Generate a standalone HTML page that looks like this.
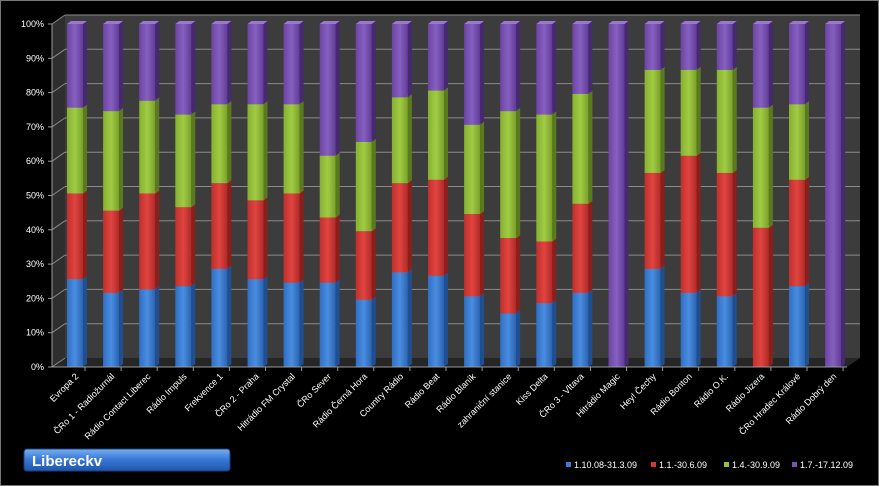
<!DOCTYPE html>
<html><head><meta charset="utf-8"><style>
html,body{margin:0;padding:0;background:#000;}
svg{display:block;font-family:"Liberation Sans",sans-serif;}
</style></head><body>
<svg width="879" height="486" viewBox="0 0 879 486" xmlns="http://www.w3.org/2000/svg">
<defs>
<linearGradient id="bl" x1="0" x2="1"><stop offset="0" stop-color="#2f6fc4"/><stop offset=".5" stop-color="#4a8de0"/><stop offset="1" stop-color="#2a63b0"/></linearGradient>
<linearGradient id="rd" x1="0" x2="1"><stop offset="0" stop-color="#c0302c"/><stop offset=".5" stop-color="#e04440"/><stop offset="1" stop-color="#b02a28"/></linearGradient>
<linearGradient id="gr" x1="0" x2="1"><stop offset="0" stop-color="#86b030"/><stop offset=".5" stop-color="#a0cc44"/><stop offset="1" stop-color="#7aa02a"/></linearGradient>
<linearGradient id="pu" x1="0" x2="1"><stop offset="0" stop-color="#6c44a4"/><stop offset=".5" stop-color="#8660c0"/><stop offset="1" stop-color="#603c98"/></linearGradient>
<linearGradient id="btn" x1="0" y1="0" x2="0" y2="1"><stop offset="0" stop-color="#7ab0f0"/><stop offset=".45" stop-color="#3a7ad8"/><stop offset="1" stop-color="#1f55a8"/></linearGradient>
</defs>
<rect x="0.5" y="0.5" width="878" height="485" fill="#000" stroke="#777"/>
<polygon points="65,15 860,15 860,358 65,358" fill="#3c3c3c"/>
<polygon points="52,24 65,15 65,358 52,367" fill="#2e2e2e"/>
<polygon points="52,367 65,358 860,358 847,367" fill="#262626"/>
<g id="grid" stroke="#8a8a8a" stroke-width="1"></g>
<g id="bars"></g>
<g id="labels" fill="#fff" font-size="9"></g>
<line x1="52" y1="367" x2="847" y2="367" stroke="#999"/>
<line x1="52" y1="24" x2="52" y2="367" stroke="#999"/>
<rect x="24" y="449" width="206" height="22" rx="3" fill="url(#btn)" stroke="#1a3f80"/>
<text x="32" y="466" fill="#fff" font-size="15" font-weight="bold">Libereckv</text>
<g font-size="9" fill="#fff">
<rect x="566" y="462" width="5" height="5" fill="#3a7ad8"/><text x="574" y="468">1.10.08-31.3.09</text>
<rect x="651" y="462" width="5" height="5" fill="#d03a36"/><text x="659" y="468">1.1.-30.6.09</text>
<rect x="724" y="462" width="5" height="5" fill="#94c03c"/><text x="732" y="468">1.4.-30.9.09</text>
<rect x="792" y="462" width="5" height="5" fill="#7a54b4"/><text x="800" y="468">1.7.-17.12.09</text>
</g>
<script>
var ns="http://www.w3.org/2000/svg";
function el(t,a,p){var e=document.createElementNS(ns,t);for(var k in a)e.setAttribute(k,a[k]);p.appendChild(e);return e;}
var g=document.getElementById('grid'),lb=document.getElementById('labels'),bs=document.getElementById('bars');
for(var i=0;i<=10;i++){var v=i*10,yb=358-v*3.43,yf=367-v*3.43;
 if(i>0)el('line',{x1:65,y1:yb,x2:860,y2:yb},g);
 el('line',{x1:52,y1:yf,x2:65,y2:yb},g);
 el('line',{x1:48,y1:yf,x2:52,y2:yf,stroke:'#999'},g);
 var t=el('text',{x:44,y:yf+3,'text-anchor':'end'},lb);t.textContent=v+'%';}
var names=["Evropa 2","ČRo 1 - Radiožurnál","Rádio Contact Liberec","Rádio Impuls","Frekvence 1","ČRo 2 - Praha","Hitrádio FM Crystal","ČRo Sever","Rádio Černá Hora","Country Rádio","Rádio Beat","Rádio Blaník","zahraniční stanice","Kiss Delta","ČRo 3 - Vltava","Hitrádio Magic","Hey! Čechy","Rádio Bonton","Rádio O.K.","Rádio Jizera","ČRo Hradec Králové","Rádio Dobrý den"];
var d=[[25,50,75],[21,45,74],[22,50,77],[23,46,73],[28,53,76],[25,48,76],[24,50,76],[24,43,61],[19,39,65],[27,53,78],[26,54,80],[20,44,70],[15,37,74],[18,36,73],[21,47,79],[0,0,0],[28,56,86],[21,61,86],[20,56,86],[0,40,75],[23,54,76],[0,0,0]];
var fills=['url(#bl)','url(#rd)','url(#gr)','url(#pu)'],sides=['#1f4f90','#8a1f1c','#5a7a1e','#47296f'],tops=['#5a9ae8','#e86a66','#b4dc5c','#9a78d0'];
function Y(v){return 367-(v>0&&v<100?v+0.6:v)*3.43;}
for(var j=0;j<22;j++){
 var cx=75+j*36.1,x0=cx-8,w=16,b=[0].concat(d[j]).concat([100]);
 for(var s=0;s<4;s++){var lo=b[s],hi=b[s+1];if(hi-lo<=0)continue;
  var y1=Y(hi),y0=Y(lo);
  el('rect',{x:x0,y:y1,width:w,height:y0-y1,fill:fills[s]},bs);
  el('polygon',{points:(x0+w)+','+y1+' '+(x0+w+4)+','+(y1-3)+' '+(x0+w+4)+','+(y0-3)+' '+(x0+w)+','+y0,fill:sides[s]},bs);
  el('polygon',{points:x0+','+y1+' '+(x0+4)+','+(y1-3)+' '+(x0+w+4)+','+(y1-3)+' '+(x0+w)+','+y1,fill:tops[s]},bs);
 }
 el('line',{x1:cx+10,y1:367,x2:cx+10,y2:371,stroke:'#999'},g);
 var t=el('text',{x:cx+4,y:377,'text-anchor':'end',transform:'rotate(-45 '+(cx+4)+' 377)'},lb);t.textContent=names[j];
}
</script>
</svg>
</body></html>
